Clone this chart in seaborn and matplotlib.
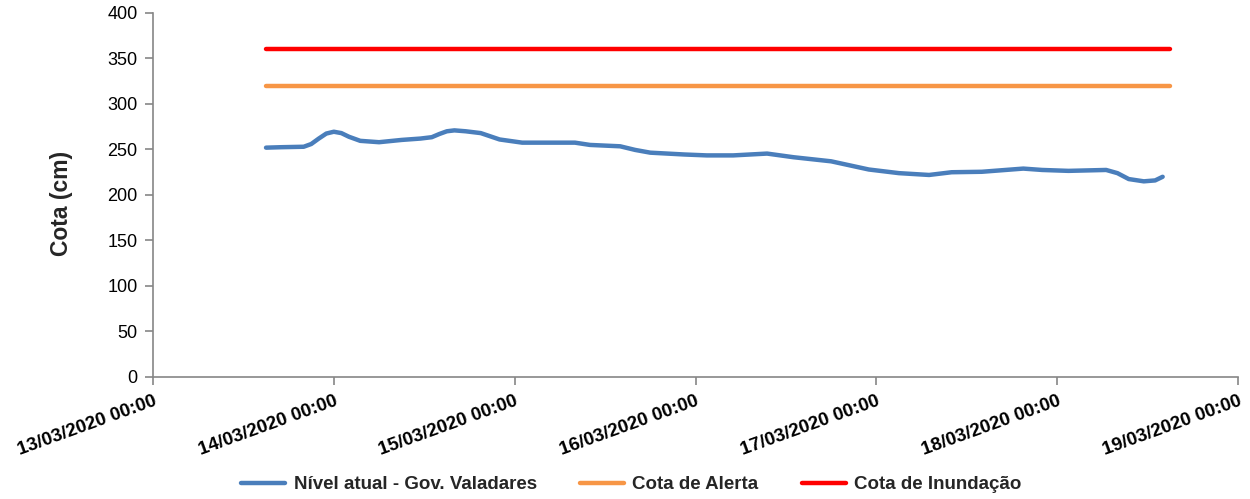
import pandas as pd
import matplotlib
matplotlib.use('Agg')
import matplotlib.pyplot as plt
import matplotlib.dates as mdates
import seaborn as sns

# water level readings (cm)
times = ['2020-03-13 15:00', '2020-03-13 17:00', '2020-03-13 20:00', '2020-03-13 21:00',
         '2020-03-13 22:00', '2020-03-13 23:00', '2020-03-14 00:00', '2020-03-14 01:00',
         '2020-03-14 02:00', '2020-03-14 03:30', '2020-03-14 06:00', '2020-03-14 09:00',
         '2020-03-14 11:30', '2020-03-14 13:00', '2020-03-14 14:00', '2020-03-14 15:00',
         '2020-03-14 16:00', '2020-03-14 17:30', '2020-03-14 19:30', '2020-03-14 22:00',
         '2020-03-15 01:00', '2020-03-15 08:00', '2020-03-15 10:00', '2020-03-15 14:00',
         '2020-03-15 16:00', '2020-03-15 18:00', '2020-03-15 22:30', '2020-03-16 01:30',
         '2020-03-16 05:00', '2020-03-16 09:30', '2020-03-16 13:00', '2020-03-16 18:00',
         '2020-03-16 23:00', '2020-03-17 03:00', '2020-03-17 07:00', '2020-03-17 10:00',
         '2020-03-17 14:00', '2020-03-17 19:30', '2020-03-17 22:00', '2020-03-18 01:30',
         '2020-03-18 06:30', '2020-03-18 08:00', '2020-03-18 09:30', '2020-03-18 11:30',
         '2020-03-18 13:00', '2020-03-18 14:00']
nivel = [252, 252.5, 253, 256, 262, 267.5, 269.5, 268,
         264, 259.5, 258, 260.5, 262, 263.5, 267, 270,
         271, 270, 268, 261, 257.5, 257.5, 255, 253.5,
         249.5, 246.5, 244.5, 243.5, 243.5, 245.5, 241.5, 237,
         228, 224, 222, 225, 225.5, 229, 227.5, 226.5,
         227.5, 224, 217.5, 215, 216, 220]

ref_times = ['2020-03-13 15:00', '2020-03-18 15:00']
cota_alerta = 320
cota_inundacao = 360

xticks = pd.date_range('2020-03-13', '2020-03-19', freq='D')

df = pd.DataFrame({'data': pd.to_datetime(times), 'cota': nivel})
ref = pd.DataFrame({'data': pd.to_datetime(ref_times)})
ref['alerta'] = cota_alerta
ref['inundacao'] = cota_inundacao

sns.set_style('white')
plt.rcParams['font.family'] = ['Liberation Sans', 'DejaVu Sans']

fig = plt.figure(figsize=(12.5, 4.99), dpi=100)
ax = fig.add_axes([0.1224, 0.2445, 0.868, 0.7295])

sns.lineplot(data=df, x='data', y='cota', ax=ax, color='#4A7EBB', linewidth=3.2,
             label='Nível atual - Gov. Valadares')
sns.lineplot(data=ref, x='data', y='alerta', ax=ax, color='#F79646', linewidth=3.2,
             label='Cota de Alerta')
sns.lineplot(data=ref, x='data', y='inundacao', ax=ax, color='#FF0000', linewidth=3.2,
             label='Cota de Inundação')
for ln in ax.get_lines():
    ln.set_solid_joinstyle('round')
    ln.set_solid_capstyle('round')

ax.set_xlim(xticks[0], xticks[-1])
ax.set_ylim(0, 400)
ax.set_yticks(range(0, 401, 50))
ax.set_xticks(xticks)
ax.xaxis.set_major_formatter(mdates.DateFormatter('%d/%m/%Y %H:%M'))
for lbl in ax.get_xticklabels():
    lbl.set_rotation(20)
    lbl.set_ha('right')
    lbl.set_rotation_mode('anchor')
    lbl.set_fontweight('bold')
    lbl.set_fontsize(13.5)
ax.tick_params(axis='y', labelsize=13, colors='#868686', labelcolor='black',
               direction='out', length=6, width=1.2, left=True, pad=5)
ax.tick_params(axis='x', colors='#868686', labelcolor='black',
               direction='out', length=6, width=1.2, bottom=True, pad=5)

ax.set_xlabel('')
ax.set_ylabel('Cota (cm)', fontsize=16.5, fontweight='bold')
ax.yaxis.set_label_coords(-0.074, 0.478)

for side in ['top', 'right']:
    ax.spines[side].set_visible(False)
for side in ['left', 'bottom']:
    ax.spines[side].set_color('#868686')
    ax.spines[side].set_linewidth(1.2)

handles, labels = ax.get_legend_handles_labels()
ax.get_legend().remove()
fig.legend(handles, labels, loc='lower center', bbox_to_anchor=(0.505, -0.022), ncol=3,
           frameon=False, prop={'weight': 'bold', 'size': 13.5}, handlelength=2.35,
           columnspacing=2.3, handletextpad=0.45)

fig.savefig('out.png', dpi=100)
plt.close(fig)
